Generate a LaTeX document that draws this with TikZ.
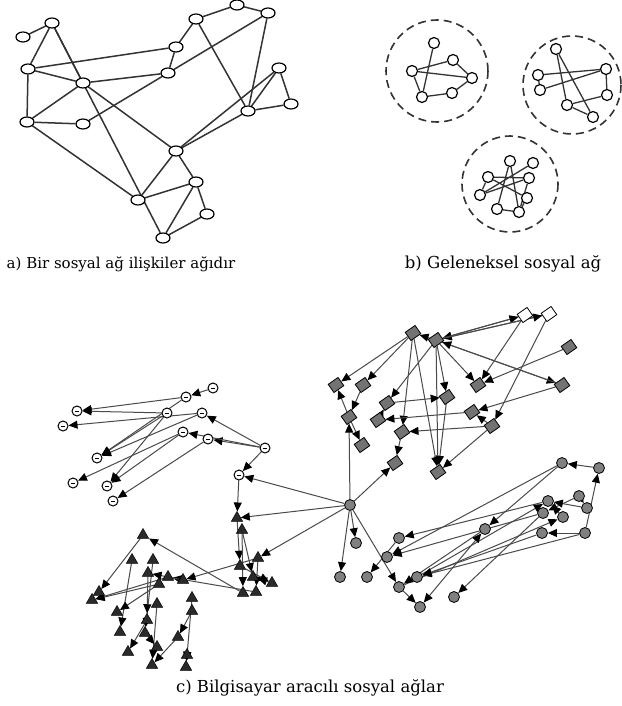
\documentclass[tikz,border=0pt]{standalone}
\usepackage{fontspec}
\setmainfont{DejaVu Serif}
\usetikzlibrary{shapes.geometric,arrows.meta}
\pgfdeclarelayer{background}
\pgfsetlayers{background,main}
\definecolor{edgegray}{HTML}{333333}
\definecolor{cedge}{HTML}{4A4A4A}
\definecolor{dfill}{HTML}{737373}
\definecolor{cfill}{HTML}{808080}
\definecolor{tfill}{HTML}{2A2A2A}
\tikzset{
  anode/.style={ellipse,draw=black,line width=1.2pt,fill=white,minimum width=14pt,minimum height=10pt,inner sep=0pt},
  bnode/.style={circle,draw=black,line width=1.2pt,fill=white,minimum size=11pt,inner sep=0pt},
  aedge/.style={draw=edgegray,line width=1.5pt},
  bcirc/.style={draw=edgegray,line width=1.6pt,dash pattern=on 8pt off 5pt},
  dnode/.style={rectangle,draw=black,line width=0.8pt,fill=dfill,minimum width=12pt,minimum height=10pt,inner sep=0pt,rotate=35},
  wdnode/.style={dnode,fill=white},
  cnode/.style={circle,draw=black,line width=0.8pt,fill=cfill,minimum size=11pt,inner sep=0pt},
  tnode/.style={regular polygon,regular polygon sides=3,draw=black,line width=0.5pt,fill=tfill,minimum size=13pt,inner sep=0pt},
  lnode/.style={circle,draw=black,line width=1pt,fill=white,minimum size=10pt,inner sep=0pt,
    path picture={\draw[line width=0.7pt] ([xshift=-2.4pt,yshift=-0.8pt]path picture bounding box.center) -- ([xshift=2.4pt,yshift=-0.8pt]path picture bounding box.center);}},
  tipc/.tip={Triangle[length=9pt,width=8pt,color=black]},
  carr/.style={draw=cedge,line width=1pt,-tipc},
  carrb/.style={draw=cedge,line width=1pt,tipc-tipc},
  caption/.style={font=\fontsize{15}{18}\selectfont,inner sep=0pt},
  captionb/.style={font=\fontsize{16.5}{19}\selectfont,inner sep=0pt}
}
\begin{document}
\begin{tikzpicture}[x=1pt,y=-1pt]
\useasboundingbox (0,0) rectangle (621,706);
% ---------------- (a) ----------------
\foreach \n/\x/\y in {a1/23/37,a2/52/23,a3/28/69,a4/83/83,a5/27/122,a6/83/124,a7/176/47,a8/168/73,a9/196/19,a10/237/5,a11/268/13,a12/279/68,a13/291/104,a14/248/111,a15/176/151,a16/196/182,a17/138/200,a18/207/214,a19/163/238}
  \node[anode] (\n) at (\x,\y) {};
\begin{pgfonlayer}{background}
\foreach \u/\v in {a1/a2,a2/a3,a2/a4,a2/a19,a3/a4,a3/a5,a3/a7,a4/a8,a4/a5,a4/a15,a5/a6,a5/a17,a6/a8,a8/a11,a7/a8,a7/a9,a9/a10,a10/a11,a9/a14,a11/a14,a12/a14,a12/a13,a13/a14,a14/a15,a15/a12,a15/a16,a15/a17,a16/a17,a16/a18,a16/a19,a18/a19}
  \draw[aedge] (\u) -- (\v);
\end{pgfonlayer}
% ---------------- (b) ----------------
\draw[bcirc] (437,71) circle[radius=51];
\draw[bcirc] (572,85) circle[radius=49];
\draw[bcirc] (510,184) circle[radius=48];
\foreach \n/\x/\y in {b1/434/43,b2/453/60,b3/412/71,b4/472/78,b5/422/97,b6/452/93,
  e1/556/49,e2/538/75,e3/540/90,e4/606/69,e5/607/95,e6/567/105,e7/593/117,
  f1/510/161,f2/533/163,f3/488/177,f4/529/178,f5/480/195,f6/527/198,f7/497/209,f8/519/212}
  \node[bnode] (\n) at (\x,\y) {};
\begin{pgfonlayer}{background}
\foreach \u/\v in {b1/b5,b3/b2,b3/b4,b2/b4,b3/b5,b5/b6,b6/b4,
  e2/e4,e2/e3,e3/e4,e1/e6,e1/e7,e4/e5,e5/e6,e6/e7,
  f1/f7,f1/f8,f2/f5,f3/f5,f3/f6,f5/f4,f4/f8,f6/f8,f7/f8,f3/f4}
  \draw[aedge,line width=1.3pt] (\u) -- (\v);
\end{pgfonlayer}
\node[caption] (capa) at (121,264) {a) Bir sosyal ağ ilişkiler ağıdır};
\node[captionb] (capb) at (503,264) {b) Geleneksel sosyal ağ};
% ---------------- (c) ----------------
\node[cnode] (H) at (350,505) {};
% left open circles
\foreach \n/\x/\y in {L1/186/397,L2/213/388,L3/77/411,L4/167/413,L5/202/413,L6/63/426,L7/183/432,L8/208/439,L9/97/458,L10/73/483,L11/107/486,L12/113/501,L13/265/448,L14/239/475}
  \node[lnode] (\n) at (\x,\y) {};
% diamonds
\foreach \n/\x/\y in {D1/413/333,D2/436/340,D5/569/347,D6/336/385,D7/363/385,D8/478/385,D9/562/385,D10/447/397,D11/387/403,D12/472/412,D13/349/417,D14/378/420,D15/402/432,D16/492/426,D17/362/445,D18/395/463,D19/438/472}
  \node[dnode] (\n) at (\x,\y) {};
\foreach \n/\x/\y in {D3/525/315,D4/549/314}
  \node[wdnode] (\n) at (\x,\y) {};
% triangles
\foreach \n/\x/\y in {T1/237/518,T3/242/530,T4/258/558,T6/240/566,T7/253/577,T8/243/593,T9/256/592,T10/272/583,
  T12/143/535,T14/132/560,T15/153/560,T16/148/573,T17/168/577,T18/159/584,T19/183/580,T21/99/592,T22/92/600,T23/157/604,T24/117/612,T25/192/598,T26/192/611,T27/147/620,T28/120/632,T29/145/633,T31/178/637,T32/128/652,T33/157/647,T35/152/665,T36/186/667,T37/187/655}
  \node[tnode] (\n) at (\x,\y) {};
% right circles
\foreach \n/\x/\y in {C1/562/463,C2/599/468,C3/548/501,C4/579/496,C5/587/508,C6/543/513,C7/563/517,C8/485/529,C9/542/533,C10/585/533,C11/399/538,C12/356/543,C13/387/557,C14/340/577,C15/367/577,C16/417/577,C17/399/587,C18/454/597,C19/420/607}
  \node[cnode] (\n) at (\x,\y) {};
\begin{pgfonlayer}{background}
% left cluster
\foreach \u/\v in {L2/L1,L1/L3,L4/L3,L5/L6,L4/L9,L1/L9,L5/L9,L4/L11,L7/L10,L7/L11,L8/L12,L13/L5,L13/L8,L13/L7,L13/L14}
  \draw[carr] (\u) -- (\v);
% diamonds
\foreach \u/\v in {D1/D6,D1/D7,D2/D1,D3/D2,D4/D2,D2/D3,D2/D4,D3/D8,D4/D16,D5/D8,D2/D9,D9/D2,D2/D8,D2/D10,D2/D19,D1/D19,D1/D15,D2/D11,D9/D12,D13/D6,D11/D10,D16/D15,D16/D19,D10/D19,D13/D17,D15/D18,H/D13,H/D18,D12/D14,D14/D11,D16/D12,D7/D13}
  \draw[carr] (\u) -- (\v);
% triangles
\foreach \u/\v in {H/L14,H/T1,H/T4,L14/T1,T1/T6,T3/T7,T3/T8,T4/T9,T10/T7,T8/T12,T9/T17,T4/T19,T17/T22,T12/T21,T14/T28,T15/T29,T16/T27,T18/T24,T18/T22,T23/T35,T25/T36,T26/T31,T31/T35,T37/T36,T27/T32,T29/T33,T19/T16,T6/T10}
  \draw[carr] (\u) -- (\v);
% right circles
\foreach \u/\v in {C2/C1,C10/C2,C10/C9,C1/C8,C1/C13,C3/C11,C6/C18,C10/C16,H/C14,H/C12,H/C17,C11/C15,C6/C13,C4/C6,C5/C3,C7/C3,C16/C3,C17/C7,C9/C16,C17/C19,C8/C17,C4/C5}
  \draw[carr] (\u) -- (\v);
\draw[carrb] (C19) -- (C8);
\end{pgfonlayer}
\node[captionb] (capc) at (310,688) {c) Bilgisayar aracılı sosyal ağlar};
\end{tikzpicture}
\end{document}
